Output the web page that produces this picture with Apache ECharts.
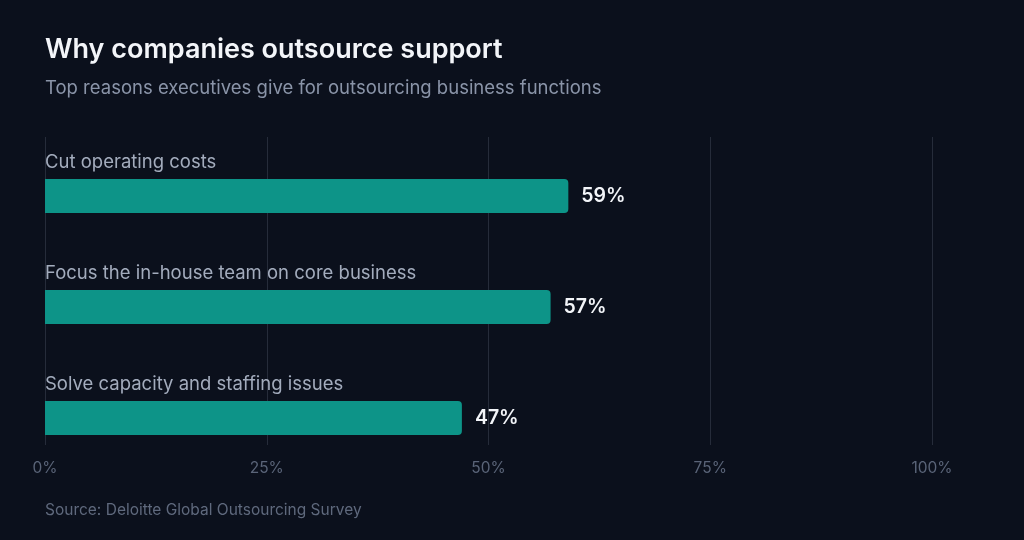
<!DOCTYPE html>
<html>
<head>
<meta charset="utf-8">
<script src="https://cdn.jsdelivr.net/npm/echarts@6/dist/echarts.min.js"></script>
<style>
  html, body { margin: 0; padding: 0; background: #0b101c; }
  #chart { width: 1024px; height: 540px; }
</style>
</head>
<body>
<div id="chart"></div>
<script>
let reasons = ['Cut operating costs', 'Focus the in-house team on core business', 'Solve capacity and staffing issues']
let shares = [59, 57, 47]
let tickValues = [0, 25, 50, 75, 100]

let chart = echarts.init(document.getElementById('chart'))
let option = {
	backgroundColor: '#0b101c',
	textStyle: { fontFamily: 'Inter' },
	title: [{
			text: 'Why companies outsource support',
			left: 40,
			top: 31,
			textStyle: { color: '#f3f5f9', fontSize: 27, fontWeight: 600, fontFamily: 'Inter' }
		},
		{
			text: 'Top reasons executives give for outsourcing business functions',
			left: 40,
			top: 74,
			textStyle: { color: '#8a94a8', fontSize: 18.5, fontWeight: 400, fontFamily: 'Inter' }
		},
		{
			text: 'Source: Deloitte Global Outsourcing Survey',
			left: 40,
			top: 497,
			textStyle: { color: '#5f697d', fontSize: 15.5, fontWeight: 400, fontFamily: 'Inter' }
		}
	],
	grid: [
		// bars
		{ left: 45, right: 92, top: 140.5, bottom: 66.5 },
		// gridlines + tick labels
		{ left: 45, right: 92, top: 137, bottom: 95 }
	],
	xAxis: [{
			type: 'value',
			gridIndex: 0,
			min: 0,
			max: 100,
			show: false,
			splitLine: { show: false }
		},
		{
			type: 'value',
			gridIndex: 1,
			min: 0,
			max: 100,
			interval: 25,
			axisLine: { show: false },
			axisTick: { show: false },
			axisLabel: {
				color: '#5a6478',
				fontSize: 15.5,
				margin: 15,
				formatter: v => tickValues.indexOf(v) > -1 ? v + '%' : ''
			},
			splitLine: { show: true, lineStyle: { color: '#262c3a', width: 1 } }
		}
	],
	yAxis: [{
			type: 'category',
			gridIndex: 0,
			inverse: true,
			data: reasons,
			axisLine: { show: false },
			axisTick: { show: false },
			axisLabel: {
				inside: true,
				margin: 0,
				align: 'left',
				verticalAlign: 'bottom',
				padding: [0, 0, 24, 0],
				color: '#a3acbd',
				fontSize: 18.5
			}
		},
		{
			type: 'category',
			gridIndex: 1,
			data: [],
			show: false
		}
	],
	series: [{
		type: 'bar',
		xAxisIndex: 0,
		yAxisIndex: 0,
		barWidth: 34,
		itemStyle: {
			color: '#0d9488',
			borderRadius: [0, 4, 4, 0]
		},
		label: {
			show: true,
			position: 'right',
			distance: 13,
			color: '#f3f5f9',
			fontSize: 19.5,
			fontWeight: 600,
			formatter: p => p.value + '%'
		},
		data: shares
	}]
}
chart.setOption(option)
</script>
</body>
</html>
